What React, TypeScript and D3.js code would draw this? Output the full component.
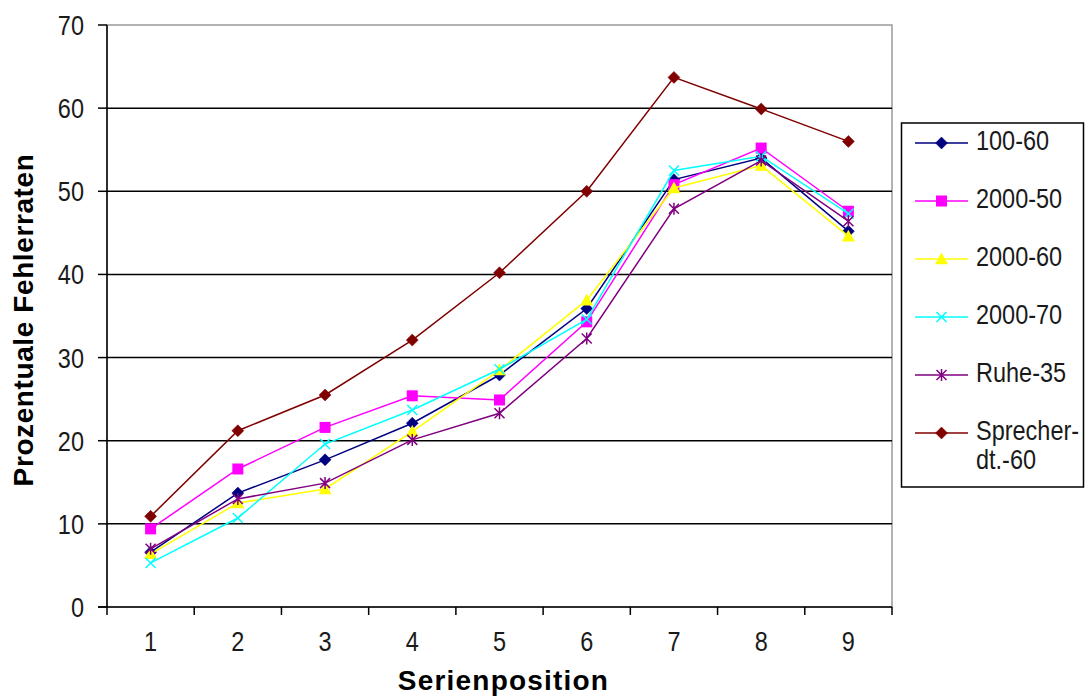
import React from "react";
import * as d3 from "d3";

const categories = ["1", "2", "3", "4", "5", "6", "7", "8", "9"];
const yTicks = [0, 10, 20, 30, 40, 50, 60, 70];

const seriesNames = ["100-60", "2000-50", "2000-60", "2000-70", "Ruhe-35", "Sprecher-dt.-60"];
const legendLabels = [["100-60"], ["2000-50"], ["2000-60"], ["2000-70"], ["Ruhe-35"], ["Sprecher-", "dt.-60"]];
const seriesColors = ["#000080", "#FF00FF", "#FFFF00", "#00FFFF", "#800080", "#800000"];
const seriesMarkers = ["diamond", "square", "triangle", "x", "star", "diamond"];

const s100_60 = [6.6, 13.7, 17.7, 22.1, 27.9, 35.9, 51.4, 54.0, 45.2];
const s2000_50 = [9.4, 16.6, 21.6, 25.4, 24.9, 34.3, 50.8, 55.2, 47.6];
const s2000_60 = [6.4, 12.5, 14.2, 21.1, 28.5, 36.9, 50.4, 53.1, 44.6];
const s2000_70 = [5.3, 10.7, 19.6, 23.7, 28.6, 34.6, 52.5, 54.2, 47.3];
const sRuhe_35 = [7.0, 13.0, 14.9, 20.1, 23.3, 32.3, 47.9, 53.7, 46.4];
const sSprecher = [10.9, 21.2, 25.5, 32.1, 40.2, 50.0, 63.7, 59.9, 56.0];

const seriesValues = [s100_60, s2000_50, s2000_60, s2000_70, sRuhe_35, sSprecher];

const W = 1088, H = 697;
const M = { left: 107, right: 892, top: 25, bottom: 607 };
const FONT = "'Liberation Sans', Arial, sans-serif";
const FS = 23.5;
const SY = 1.2;

function T({ x, y, anchor, children }: { x: number; y: number; anchor?: string; children: React.ReactNode }) {
  return (
    <text
      transform={`translate(${x},${y}) scale(1,${SY})`}
      textAnchor={anchor || "start"}
      fontFamily={FONT}
      fontSize={FS}
      fill="#1a1a1a"
    >
      {children}
    </text>
  );
}

function Marker({ type, x, y, color }: { type: string; x: number; y: number; color: string }) {
  if (type === "diamond") {
    const r = 6;
    return <path d={`M${x},${y - r}L${x + r},${y}L${x},${y + r}L${x - r},${y}Z`} fill={color} stroke={color} strokeWidth={0.5} />;
  }
  if (type === "square") {
    const r = 5.5;
    return <rect x={x - r} y={y - r} width={2 * r} height={2 * r} fill={color} />;
  }
  if (type === "triangle") {
    const r = 6.5;
    return <path d={`M${x},${y - r}L${x + r},${y + r * 0.8}L${x - r},${y + r * 0.8}Z`} fill={color} />;
  }
  if (type === "x") {
    const r = 5;
    return <path d={`M${x - r},${y - r}L${x + r},${y + r}M${x - r},${y + r}L${x + r},${y - r}`} stroke={color} strokeWidth={1.5} fill="none" />;
  }
  const r = 5;
  return (
    <path
      d={`M${x - r},${y - r}L${x + r},${y + r}M${x - r},${y + r}L${x + r},${y - r}M${x},${y - r - 1}L${x},${y + r + 1}`}
      stroke={color}
      strokeWidth={1.5}
      fill="none"
    />
  );
}

export default function App() {
  const x = d3.scaleBand().domain(categories).range([M.left, M.right]).padding(0);
  const y = d3.scaleLinear().domain([0, 70]).range([M.bottom, M.top]);
  const cx = (c: string) => (x(c) as number) + x.bandwidth() / 2;
  const line = d3
    .line<number>()
    .x((_, i) => cx(categories[i]))
    .y((v) => y(v));

  const boundaries = categories.map((c) => x(c) as number).concat([M.right]);
  const legendY0 = 143;
  const legendStep = 58;

  return (
    <svg width={W} height={H} style={{ position: "absolute", left: 0, top: 0, background: "#fff" }}>
      <rect x={0} y={0} width={W} height={H} fill="#fff" />
      <rect x={M.left} y={M.top} width={M.right - M.left} height={M.bottom - M.top} fill="none" stroke="#999" strokeWidth={1.5} />
      {yTicks.filter((t) => t > 0 && t < 70).map((t) => (
        <line key={t} x1={M.left} x2={M.right} y1={y(t)} y2={y(t)} stroke="#000" strokeWidth={1.5} />
      ))}
      <line x1={M.left} x2={M.left} y1={M.top} y2={M.bottom} stroke="#000" strokeWidth={1.5} />
      {yTicks.map((t) => (
        <g key={t}>
          <line x1={M.left - 9} x2={M.left} y1={y(t)} y2={y(t)} stroke="#000" strokeWidth={1.5} />
          <T x={84} y={y(t) + 10} anchor="end">{t}</T>
        </g>
      ))}
      <line x1={M.left - 9} x2={M.right} y1={M.bottom} y2={M.bottom} stroke="#000" strokeWidth={1.5} />
      {boundaries.map((b, i) => (
        <line key={i} x1={b} x2={b} y1={M.bottom} y2={M.bottom + 8} stroke="#000" strokeWidth={1.5} />
      ))}
      {categories.map((c) => (
        <T key={c} x={cx(c)} y={651} anchor="middle">{c}</T>
      ))}
      <text
        x={(M.left + M.right) / 2 + 4}
        y={690}
        textAnchor="middle"
        fontFamily={FONT}
        fontSize={28}
        fontWeight="bold"
        letterSpacing={1.2}
        fill="#000"
      >
        Serienposition
      </text>
      <text
        transform={`translate(33,320) rotate(-90)`}
        textAnchor="middle"
        fontFamily={FONT}
        fontSize={28}
        fontWeight="bold"
        letterSpacing={0.6}
        fill="#000"
      >
        Prozentuale Fehlerraten
      </text>
      {seriesValues.map((vals, si) => (
        <g key={seriesNames[si]}>
          <path d={line(vals) || ""} fill="none" stroke={seriesColors[si]} strokeWidth={1.5} />
          {vals.map((v, i) => (
            <Marker key={i} type={seriesMarkers[si]} x={cx(categories[i])} y={y(v)} color={seriesColors[si]} />
          ))}
        </g>
      ))}
      <rect x={901.5} y={123} width={182} height={364} fill="#fff" stroke="#000" strokeWidth={1.5} />
      {seriesNames.map((n, si) => {
        const ly = legendY0 + si * legendStep;
        return (
          <g key={n}>
            <line x1={915} x2={968} y1={ly} y2={ly} stroke={seriesColors[si]} strokeWidth={1.5} />
            <Marker type={seriesMarkers[si]} x={941.5} y={ly} color={seriesColors[si]} />
            {legendLabels[si].map((l, k) => (
              <T key={k} x={976} y={ly + 7 + k * 29}>{l}</T>
            ))}
          </g>
        );
      })}
    </svg>
  );
}
